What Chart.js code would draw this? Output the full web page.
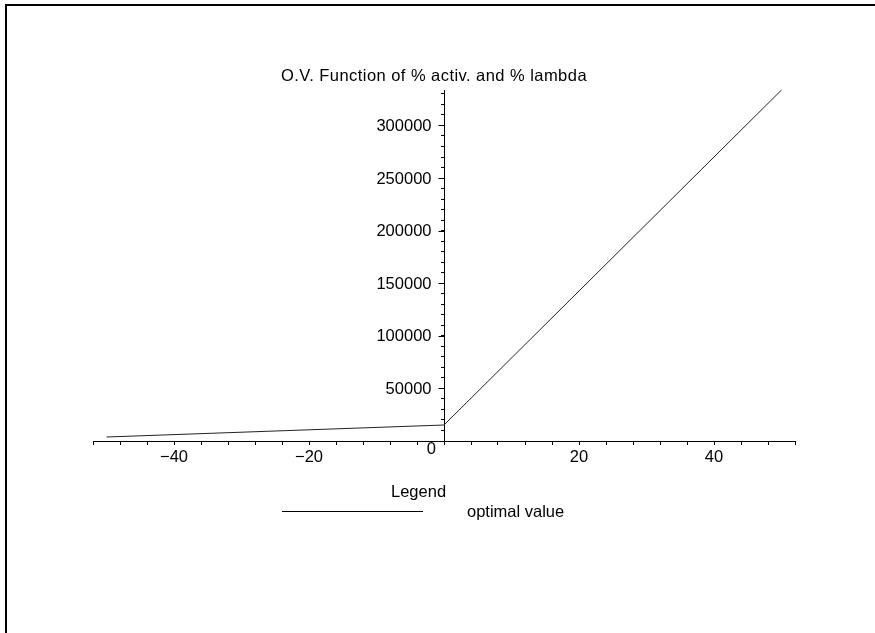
<!DOCTYPE html>
<html>
<head>
<meta charset="utf-8">
<script src="https://cdn.jsdelivr.net/npm/chart.js@4.4.1/dist/chart.umd.min.js"></script>
<style>
  html, body { margin: 0; padding: 0; background: #fff; }
  #wrap { position: relative; width: 875px; height: 633px; overflow: hidden; }
  #frame { position: absolute; left: 5px; top: 4px; width: 880px; height: 640px;
           border-top: 2px solid #000; border-left: 2px solid #000; }
  canvas { position: absolute; left: 0; top: 0; }
</style>
</head>
<body>
<div id="wrap">
  <div id="frame"></div>
  <canvas id="c" width="875" height="633"></canvas>
</div>
<script>
// ---- data ----
const xValues = [-50, 0, 50];
const ovValues = [3800, 15200, 333700];
const seriesLabel = 'optimal value';
const chartTitle = 'O.V. Function of % activ. and % lambda';
const legendTitle = 'Legend';
const xTicks = [-52, -48, -44, -40, -36, -32, -28, -24, -20, -16, -12, -8, -4, 0,
                4, 8, 12, 16, 20, 24, 28, 32, 36, 40, 44, 48, 52];
const xTickLabels = [-40, -20, 20, 40];
const yTicks = [0, 10000, 20000, 30000, 40000, 50000, 60000, 70000, 80000, 90000, 100000,
                110000, 120000, 130000, 140000, 150000, 160000, 170000, 180000, 190000, 200000,
                210000, 220000, 230000, 240000, 250000, 260000, 270000, 280000, 290000, 300000,
                310000, 320000, 330000];
const yTickLabels = [50000, 100000, 150000, 200000, 250000, 300000];
const originLabel = '0';

const FONT = "'Liberation Sans', Arial, Helvetica, sans-serif";
const FS = 16.5;
const fmt = v => (v < 0 ? '\u2212' + Math.abs(v) : String(v));

const textPlugin = {
  id: 'texts',
  afterDraw(chart) {
    const ctx = chart.ctx;
    const xs = chart.scales.x, ys = chart.scales.y;
    const ax = Math.round(xs.getPixelForValue(0)) + 0.5;
    ctx.save();
    ctx.fillStyle = '#000';
    ctx.strokeStyle = '#000';
    ctx.lineWidth = 1;
    // longer marks at labelled y ticks
    ctx.beginPath();
    yTickLabels.forEach(v => {
      const py = Math.round(ys.getPixelForValue(v)) + 0.5;
      ctx.moveTo(ax - 6, py);
      ctx.lineTo(ax, py);
    });
    ctx.stroke();
    // y tick labels
    ctx.font = FS + 'px ' + FONT;
    ctx.textAlign = 'right';
    ctx.textBaseline = 'middle';
    yTickLabels.forEach(v => {
      ctx.fillText(String(v), ax - 13, ys.getPixelForValue(v) + 1);
    });
    // origin label
    ctx.textBaseline = 'alphabetic';
    ctx.fillText(originLabel, ax - 8.5, ys.getPixelForValue(0) + 13);
    // title
    ctx.textAlign = 'left';
    ctx.letterSpacing = '0.45px';
    ctx.fillText(chartTitle, 281, 81);
    ctx.letterSpacing = '0px';
    // legend
    ctx.fillText(legendTitle, 391, 497);
    ctx.beginPath();
    ctx.moveTo(282, 511.5);
    ctx.lineTo(423, 511.5);
    ctx.stroke();
    ctx.fillText(chart.data.datasets[0].label, 467, 517);
    ctx.restore();
  }
};

new Chart(document.getElementById('c'), {
  type: 'scatter',
  data: {
    datasets: [{
      label: seriesLabel,
      data: xValues.map((x, i) => ({ x: x, y: ovValues[i] })),
      showLine: true,
      borderColor: '#222',
      borderWidth: 1,
      pointRadius: 0,
      pointHoverRadius: 0,
      tension: 0,
      clip: false
    }]
  },
  options: {
    responsive: false,
    animation: false,
    events: [],
    layout: { padding: { left: 93, right: 80, top: 90, bottom: 192 } },
    plugins: { legend: { display: false }, title: { display: false }, tooltip: { enabled: false } },
    scales: {
      x: {
        type: 'linear',
        min: -52, max: 52,
        position: { y: 0 },
        afterFit(s) { s.height = 0; },
        afterBuildTicks(s) { s.ticks = xTicks.map(v => ({ value: v })); },
        grid: { display: true, drawOnChartArea: false, drawTicks: true, tickLength: 3,
                tickColor: '#000', tickWidth: 1 },
        border: { display: true, color: '#000', width: 1 },
        ticks: {
          autoSkip: false, maxRotation: 0, padding: 4, color: '#000',
          font: { family: FONT, size: FS },
          callback: v => (xTickLabels.includes(v) ? fmt(v) : '')
        }
      },
      y: {
        type: 'linear',
        min: 0, max: 333700,
        position: { x: 0 },
        afterFit(s) { s.width = 0; },
        afterBuildTicks(s) { s.ticks = yTicks.map(v => ({ value: v })); },
        grid: { display: true, drawOnChartArea: false, drawTicks: true, tickLength: 3,
                tickColor: '#000', tickWidth: 1 },
        border: { display: true, color: '#000', width: 1 },
        ticks: { display: false }
      }
    }
  },
  plugins: [textPlugin]
});
</script>
</body>
</html>
